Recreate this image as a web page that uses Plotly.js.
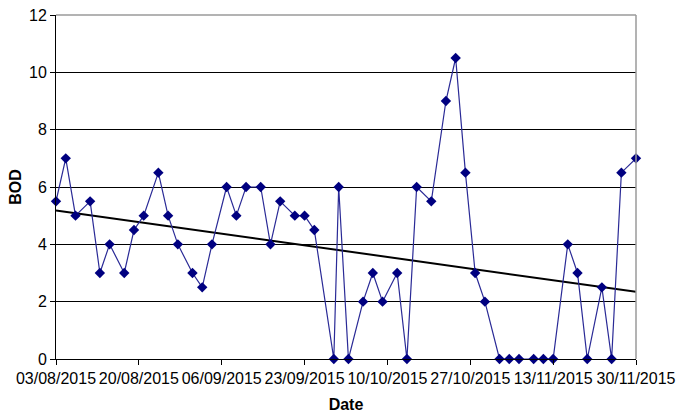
<!DOCTYPE html>
<html>
<head>
<meta charset="utf-8">
<script src="https://cdn.plot.ly/plotly-3.0.1.min.js"></script>
<style>
  html, body { margin: 0; padding: 0; background: #fff; }
  #chart { width: 677px; height: 415px; }
</style>
</head>
<body>
<div id="chart"></div>
<script>
const dates = [
  "2015-08-03", "2015-08-05", "2015-08-07", "2015-08-10", "2015-08-12", "2015-08-14",
  "2015-08-17", "2015-08-19", "2015-08-21", "2015-08-24", "2015-08-26", "2015-08-28",
  "2015-08-31", "2015-09-02", "2015-09-04", "2015-09-07", "2015-09-09", "2015-09-11",
  "2015-09-14", "2015-09-16", "2015-09-18", "2015-09-21", "2015-09-23", "2015-09-25",
  "2015-09-29", "2015-09-30", "2015-10-02", "2015-10-05", "2015-10-07", "2015-10-09",
  "2015-10-12", "2015-10-14", "2015-10-16", "2015-10-19", "2015-10-22", "2015-10-24",
  "2015-10-26", "2015-10-28", "2015-10-30", "2015-11-02", "2015-11-04", "2015-11-06",
  "2015-11-09", "2015-11-11", "2015-11-13", "2015-11-16", "2015-11-18", "2015-11-20",
  "2015-11-23", "2015-11-25", "2015-11-27", "2015-11-30"
];
const bod = [
  5.5, 7, 5, 5.5, 3, 4,
  3, 4.5, 5, 6.5, 5, 4,
  3, 2.5, 4, 6, 5, 6,
  6, 4, 5.5, 5, 5, 4.5,
  0, 6, 0, 2, 3, 2,
  3, 0, 6, 5.5, 9, 10.5,
  6.5, 3, 2, 0, 0, 0,
  0, 0, 0, 4, 3, 0,
  2.5, 0, 6.5, 7
];
const xStart = "2015-08-03";
const xEnd = "2015-11-30";
const DAY = 86400000;

// linear trendline (least squares over date values)
const trendline = () => {
  const xs = dates.map(d => Date.parse(d) / DAY);
  const n = xs.length;
  const mx = xs.reduce((s, v) => s + v, 0) / n;
  const my = bod.reduce((s, v) => s + v, 0) / n;
  let sxy = 0;
  let sxx = 0;
  xs.forEach((x, i) => {
    sxy += (x - mx) * (bod[i] - my);
    sxx += (x - mx) ** 2;
  });
  const slope = sxy / sxx;
  const at = d => my + slope * (Date.parse(d) / DAY - mx);
  return { x: [xStart, xEnd], y: [at(xStart), at(xEnd)] };
};

const trend = trendline();
const font = "Liberation Sans, Arial, sans-serif";

const data = [
  {
    x: trend.x,
    y: trend.y,
    type: "scatter",
    mode: "lines",
    line: { color: "#000000", width: 2 },
    hoverinfo: "skip"
  },
  {
    x: dates,
    y: bod,
    type: "scatter",
    mode: "lines+markers",
    line: { color: "#2a2a96", width: 1.2 },
    marker: { symbol: "diamond", size: 8, color: "#000080" },
    cliponaxis: false
  }
];

const layout = {
  width: 677,
  height: 415,
  margin: { l: 56, r: 41, t: 15, b: 56 },
  paper_bgcolor: "#ffffff",
  plot_bgcolor: "#ffffff",
  showlegend: false,
  font: { family: font, size: 16, color: "#000000" },
  xaxis: {
    type: "date",
    range: [xStart, xEnd],
    tick0: xStart,
    dtick: 17 * DAY,
    tickformat: "%d/%m/%Y",
    showgrid: false,
    zeroline: false,
    showline: true,
    linecolor: "#000000",
    linewidth: 1,
    ticks: "outside",
    ticklen: 5,
    tickcolor: "#000000",
    tickfont: { family: font, size: 16, color: "#000000" },
    title: { text: "<b>Date</b>", font: { family: font, size: 16, color: "#000000" }, standoff: 12 }
  },
  yaxis: {
    range: [0, 12],
    dtick: 2,
    showgrid: true,
    gridcolor: "#000000",
    gridwidth: 1,
    zeroline: false,
    showline: true,
    linecolor: "#000000",
    linewidth: 1,
    ticks: "outside",
    ticklen: 5,
    tickcolor: "#000000",
    tickfont: { family: font, size: 16, color: "#000000" },
    title: { text: "<b>BOD</b>", font: { family: font, size: 16, color: "#000000" }, standoff: 3 }
  },
  shapes: [
    {
      type: "line", xref: "paper", yref: "paper",
      x0: 0, x1: 1, y0: 1, y1: 1,
      line: { color: "#9a9a9a", width: 1.5 }, layer: "above"
    },
    {
      type: "line", xref: "paper", yref: "paper",
      x0: 1, x1: 1, y0: 0, y1: 1,
      line: { color: "#9a9a9a", width: 1.5 }, layer: "above"
    }
  ]
};

Plotly.newPlot("chart", data, layout, { displayModeBar: false, staticPlot: true });
</script>
</body>
</html>
